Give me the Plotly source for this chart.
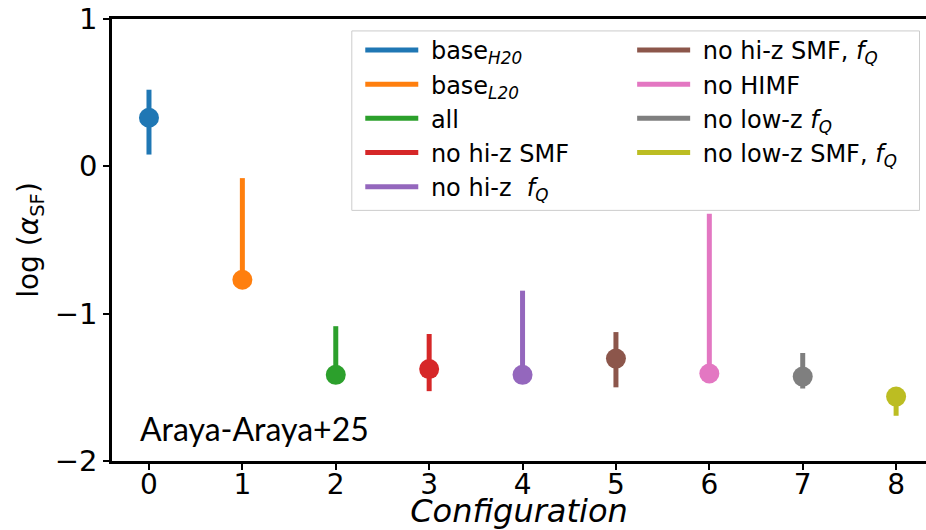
import plotly.graph_objects as go

config = [0, 1, 2, 3, 4, 5, 6, 7, 8]
log_alpha = [0.33, -0.77, -1.415, -1.376, -1.415, -1.305, -1.406, -1.427, -1.563]
err_up = [0.19, 0.69, 0.33, 0.238, 0.571, 0.18, 1.084, 0.16, 0.0]
err_low = [0.25, 0.0, 0.0, 0.15, 0.0, 0.195, 0.0, 0.081, 0.13]
labels = [
    "base<sub><i>H20</i></sub>",
    "base<sub><i>L20</i></sub>",
    "all",
    "no hi-z SMF",
    "no hi-z  <i>f</i><sub><i>Q</i></sub>",
    "no hi-z SMF, <i>f</i><sub><i>Q</i></sub>",
    "no HIMF",
    "no low-z <i>f</i><sub><i>Q</i></sub>",
    "no low-z SMF, <i>f</i><sub><i>Q</i></sub>",
]
colors = ["#1f77b4", "#ff7f0e", "#2ca02c", "#d62728", "#9467bd",
          "#8c564b", "#e377c2", "#7f7f7f", "#bcbd22"]

FONT = "DejaVu Sans"
XRANGE = [-0.396, 8.32]
fig = go.Figure()
for i in range(len(config)):
    fig.add_trace(go.Scatter(
        x=[config[i]], y=[log_alpha[i]], mode="markers",
        marker=dict(size=20, color=colors[i]),
        error_y=dict(type="data", symmetric=False, array=[err_up[i]],
                     arrayminus=[err_low[i]], thickness=5, width=0,
                     color=colors[i]),
        showlegend=False,
    ))
for i in range(len(config)):
    fig.add_trace(go.Scatter(
        x=[None], y=[None], mode="lines", name="\u00a0" + labels[i],
        line=dict(color=colors[i], width=5), xaxis="x2",
        legend="legend" if i < 5 else "legend2",
        legendgroup=f"g{i}",
    ))

leg_common = dict(font=dict(family=FONT, size=24, color="black"),
                  bgcolor="rgba(0,0,0,0)", borderwidth=0,
                  traceorder="grouped", tracegroupgap=0,
                  xanchor="left", yanchor="top", itemwidth=53)
fig.update_layout(
    width=926, height=530,
    margin=dict(l=112, r=0, t=19, b=69, autoexpand=False),
    plot_bgcolor="white", paper_bgcolor="white",
    font=dict(family=FONT, color="black"),
    legend=dict(x=0.305, y=0.98, **leg_common),
    legend2=dict(x=0.639, y=0.98, **leg_common),
    xaxis=dict(range=XRANGE, tickmode="array", tickvals=config,
               showticklabels=False, automargin=False,
               showline=True, linecolor="black", linewidth=2.5, mirror=True,
               ticks="outside", ticklen=6, tickwidth=2, tickcolor="black",
               showgrid=False, zeroline=False),
    xaxis2=dict(range=XRANGE, overlaying="x", anchor="free", position=0,
                side="bottom", tickmode="array", tickvals=config,
                ticktext=[str(c) for c in config], automargin=False,
                ticks="", ticklabelstandoff=4,
                showline=False, showgrid=False, zeroline=False,
                tickfont=dict(size=28, family=FONT),
                title=dict(text="<i>Configuration</i>", font=dict(size=32, family=FONT),
                           standoff=14)),
    yaxis=dict(range=[-2, 1], tickvals=[-2, -1, 0, 1], automargin=False,
               showline=True, linecolor="black", linewidth=2.5,
               ticks="outside", ticklen=6, tickwidth=2, tickcolor="black",
               showgrid=False, zeroline=False,
               tickfont=dict(size=29, family=FONT),
               title=dict(text="log (<i>α</i><sub>SF</sub>)", font=dict(size=28, family=FONT),
                          standoff=8)),
    shapes=[dict(type="rect", xref="paper", yref="paper",
                 x0=0.2946, x1=0.992, y0=0.567, y1=0.973,
                 line=dict(color="#cccccc", width=1),
                 fillcolor="rgba(255,255,255,0.8)", layer="above")],
    annotations=[dict(text="Araya-Araya+25", xref="paper", yref="paper",
                      x=0.032, y=0.074, xanchor="left", yanchor="middle",
                      showarrow=False, font=dict(family="Lato", size=32, color="black"))],
)
fig.write_html("out.html")
